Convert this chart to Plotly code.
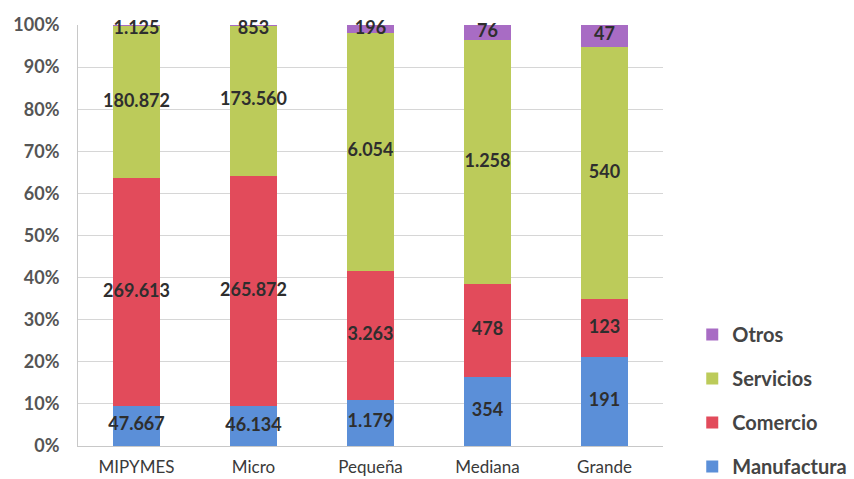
import plotly.graph_objects as go

# Company-size categories and number of firms per sector
categories = ["MIPYMES", "Micro", "Pequeña", "Mediana", "Grande"]
manufactura = [47667, 46134, 1179, 354, 191]
comercio = [269613, 265872, 3263, 478, 123]
servicios = [180872, 173560, 6054, 1258, 540]
otros = [1125, 853, 196, 76, 47]
y_ticks = [0, 10, 20, 30, 40, 50, 60, 70, 80, 90, 100]


def fmt(v):
    # Spanish thousands separator
    return f"{v:,}".replace(",", ".")


series = [
    ("Manufactura", manufactura, "#5b8fd8", 4),
    ("Comercio", comercio, "#e24b5b", 3),
    ("Servicios", servicios, "#bccb5a", 2),
    ("Otros", otros, "#a86cc4", 1),
]

FONT = "Lato"

fig = go.Figure()
for name, vals, color, rank in series:
    fig.add_trace(go.Bar(
        name=name,
        x=categories,
        y=vals,
        marker=dict(color=color, line=dict(width=0)),
        textposition="none",
        legendgroup=name,
        legendrank=rank,
        hoverinfo="skip",
    ))

# Value labels centred in each stacked segment (kept just inside the 100% top)
totals = [sum(s[1][i] for s in series) for i in range(len(categories))]
lab_x, lab_y, lab_t = [], [], []
for i, cat in enumerate(categories):
    base = 0.0
    for _, vals, _, _ in series:
        share = vals[i] / totals[i] * 100
        lab_x.append(cat)
        lab_y.append(min(base + share / 2, 99.0))
        lab_t.append(fmt(vals[i]))
        base += share

fig.add_trace(go.Scatter(
    x=lab_x,
    y=lab_y,
    text=lab_t,
    mode="text",
    textposition="middle center",
    textfont=dict(family=FONT, size=18, color="#2e2e2e", weight="bold"),
    showlegend=False,
    cliponaxis=False,
    hoverinfo="skip",
))

fig.update_layout(
    barmode="stack",
    barnorm="percent",
    bargap=0.6,
    width=854,
    height=479,
    margin=dict(l=78, r=191, t=25, b=33, autoexpand=False),
    paper_bgcolor="white",
    plot_bgcolor="white",
    font=dict(family=FONT, color="#555555"),
    legend=dict(
        traceorder="grouped",
        tracegroupgap=15,
        x=1.05,
        xanchor="left",
        y=-0.095,
        yanchor="bottom",
        font=dict(family=FONT, size=20, color="#444444", weight="bold"),
        itemwidth=30,
    ),
    xaxis=dict(
        showgrid=False,
        showline=True,
        linecolor="#c8c8c8",
        linewidth=1,
        ticks="",
        automargin=False,
        ticklabelstandoff=6,
        tickfont=dict(family=FONT, size=17, color="#3a3a3a"),
    ),
    yaxis=dict(
        range=[0, 100],
        tickvals=y_ticks,
        ticktext=[f"{t}%" for t in y_ticks],
        showgrid=True,
        gridcolor="#d6d6d6",
        gridwidth=1,
        showline=True,
        linecolor="#c8c8c8",
        zeroline=False,
        ticks="",
        ticklen=0,
        automargin=False,
        ticklabelstandoff=14,
        tickfont=dict(family=FONT, size=18, color="#555555", weight="bold"),
    ),
)

fig.write_html("out.html")
